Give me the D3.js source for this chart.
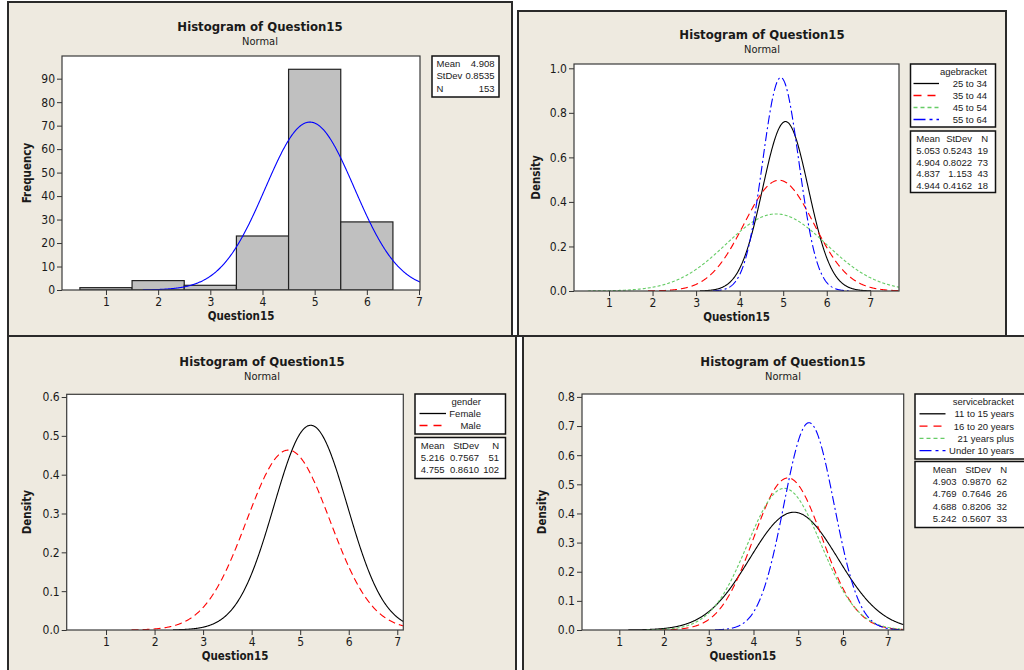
<!DOCTYPE html>
<html><head><meta charset="utf-8">
<script src="https://cdn.jsdelivr.net/npm/d3@7"></script>
<style>
html,body{margin:0;padding:0;background:#fff;}
svg text{font-family:"DejaVu Sans Condensed","DejaVu Sans",sans-serif;fill:#1a1a1a;}
svg text.lg{font-family:"Liberation Sans",Arial,sans-serif;}
</style></head>
<body><svg id="c" width="1024" height="670"></svg>
<script>
// ---------- DATA ----------
const histBins = [1, 2, 3, 4, 5, 6];
const histCounts = [1, 4, 2, 23, 94, 29];
const allStatLabels = ["Mean", "StDev", "N"];
const allStatValues = ["4.908", "0.8535", "153"];
const allMean = 4.908, allSD = 0.8535, allN = 153;

const ageGroups = ["25 to 34", "35 to 44", "45 to 54", "55 to 64"];
const ageMean = [5.053, 4.904, 4.837, 4.944];
const ageSD = [0.5243, 0.8022, 1.153, 0.4162];
const ageN = [19, 73, 43, 18];

const genderGroups = ["Female", "Male"];
const genderMean = [5.216, 4.755];
const genderSD = [0.7567, 0.8610];
const genderN = [51, 102];

const serviceGroups = ["11 to 15 years", "16 to 20 years", "21 years plus", "Under 10 years"];
const serviceMean = [4.903, 4.769, 4.688, 5.242];
const serviceSD = [0.9870, 0.7646, 0.8206, 0.5607];
const serviceN = [62, 26, 32, 33];

const xTicks = [1, 2, 3, 4, 5, 6, 7];
const freqTicks = [0, 10, 20, 30, 40, 50, 60, 70, 80, 90];
const ageTicks = [0.0, 0.2, 0.4, 0.6, 0.8, 1.0];
const genderTicks = [0.0, 0.1, 0.2, 0.3, 0.4, 0.5, 0.6];
const serviceTicks = [0.0, 0.1, 0.2, 0.3, 0.4, 0.5, 0.6, 0.7, 0.8];

// ---------- STYLE ----------
const BG = "#eeeae0";
const styles = [
  {color: "#000000", dash: null},
  {color: "#ff0000", dash: "7,4"},
  {color: "#66cc66", dash: "3,2"},
  {color: "#0000ff", dash: "9,3,2,3"}
];
const legendDash = [null, "8,6", "4,3", "12,4,3,4"];

const svg = d3.select("#c");
svg.append("rect").attr("width", 1024).attr("height", 670).attr("fill", "#fff");

function pdf(x, m, s) { return Math.exp(-0.5 * ((x - m) / s) ** 2) / (s * Math.sqrt(2 * Math.PI)); }

function panel(cfg) {
  const g = svg.append("g");
  g.append("rect").attr("x", cfg.frame[0]).attr("y", cfg.frame[1]).attr("width", cfg.frame[2]).attr("height", cfg.frame[3])
    .attr("fill", BG).attr("stroke", "#2a2a2a").attr("stroke-width", 2);
  const cx = cfg.frame[0] + cfg.frame[2] / 2;
  g.append("text").attr("x", cx).attr("y", cfg.titleY).attr("text-anchor", "middle")
    .attr("font-size", 13).attr("font-weight", "bold").text("Histogram of Question15");
  g.append("text").attr("x", cx).attr("y", cfg.titleY + 13.5).attr("text-anchor", "middle")
    .attr("font-size", 11).text("Normal");
  const x = d3.scaleLinear().domain(cfg.xd).range([cfg.l, cfg.r]);
  const y = d3.scaleLinear().domain(cfg.yd).range([cfg.b, cfg.t]);
  g.append("rect").attr("x", cfg.l).attr("y", cfg.t).attr("width", cfg.r - cfg.l).attr("height", cfg.b - cfg.t)
    .attr("fill", "#fff");
  const clipId = "clip" + cfg.id;
  svg.append("clipPath").attr("id", clipId).append("rect")
    .attr("x", cfg.l).attr("y", cfg.t - 2).attr("width", cfg.r - cfg.l).attr("height", cfg.b - cfg.t + 2);
  const xa = g.append("g").attr("transform", `translate(0,${cfg.b})`)
    .call(d3.axisBottom(x).tickValues(xTicks).tickSize(5).tickPadding(2).tickFormat(d3.format("d")));
  const ya = g.append("g").attr("transform", `translate(${cfg.l},0)`)
    .call(d3.axisLeft(y).tickValues(cfg.yTicks).tickSize(5).tickPadding(2).tickFormat(cfg.yFmt));
  [xa, ya].forEach(a => {
    a.select(".domain").remove();
    a.selectAll("line").attr("stroke", "#333");
    a.selectAll("text").attr("font-size", 12).attr("fill", "#1a1a1a").attr("font-family", null);
  });
  g.append("text").attr("x", (cfg.l + cfg.r) / 2).attr("y", cfg.b + 30).attr("text-anchor", "middle")
    .attr("font-size", 11.5).attr("font-weight", "bold").text("Question15");
  g.append("text").attr("transform", `translate(${cfg.yLabX},${(cfg.t + cfg.b) / 2}) rotate(-90)`)
    .attr("text-anchor", "middle").attr("font-size", 11.5).attr("font-weight", "bold").text(cfg.yLabel);
  const inner = g.append("g").attr("clip-path", `url(#${clipId})`);
  return {g, inner, x, y, cfg};
}

function frameOver(p) {
  p.g.append("rect").attr("x", p.cfg.l).attr("y", p.cfg.t).attr("width", p.cfg.r - p.cfg.l).attr("height", p.cfg.b - p.cfg.t)
    .attr("fill", "none").attr("stroke", "#3a3a3a").attr("stroke-width", 1.2);
}

function curves(p, means, sds) {
  const line = d3.line().x(d => p.x(d[0])).y(d => p.y(d[1]));
  means.forEach((m, i) => {
    const s = sds[i];
    const pts = d3.range(m - 3.75 * s, m + 3.75 * s, 0.01).map(v => [v, pdf(v, m, s)]);
    p.inner.append("path").attr("d", line(pts)).attr("fill", "none")
      .attr("stroke", styles[i].color).attr("stroke-width", 1.1)
      .attr("stroke-dasharray", styles[i].dash);
  });
}

function legend(p, L, title, groups) {
  const g = p.g;
  g.append("rect").attr("x", L.x).attr("y", L.y1).attr("width", L.w).attr("height", L.h1)
    .attr("fill", "#fff").attr("stroke", "#111").attr("stroke-width", 1.5);
  g.append("text").attr("class", "lg").attr("x", L.textR).attr("y", L.y1 + 11).attr("text-anchor", "end").attr("font-size", 9.5).text(title);
  groups.forEach((gname, i) => {
    const yy = L.y1 + 11 + L.rowH * (i + 1);
    g.append("line").attr("x1", L.sx1).attr("x2", L.sx2).attr("y1", yy - 3.5).attr("y2", yy - 3.5)
      .attr("stroke", styles[i].color).attr("stroke-width", 1.3).attr("stroke-dasharray", legendDash[i]);
    g.append("text").attr("class", "lg").attr("x", L.textR).attr("y", yy).attr("text-anchor", "end").attr("font-size", 9.5).text(gname);
  });
}

function statsTable(p, L, means, sds, ns, sdFmt) {
  const g = p.g;
  g.append("rect").attr("x", L.x).attr("y", L.y2).attr("width", L.w).attr("height", L.h2)
    .attr("fill", "#fff").attr("stroke", "#111").attr("stroke-width", 1.5);
  const rows = [["Mean", "StDev", "N"]].concat(means.map((m, i) => [d3.format(".3f")(m), sdFmt(sds[i]), String(ns[i])]));
  rows.forEach((r, j) => {
    const yy = L.y2 + 11 + L.statH * j;
    r.forEach((t, k) => {
      g.append("text").attr("class", "lg").attr("x", L.cols[k]).attr("y", yy).attr("text-anchor", "end").attr("font-size", 9.5).text(t);
    });
  });
}
const sdFmt = v => v >= 1 ? d3.format(".3f")(v) : d3.format(".4f")(v);

// ---------- PANEL 1: histogram ----------
const p1 = panel({id: 1, frame: [8, 2, 504, 334], titleY: 31, l: 62, r: 420, t: 56, b: 290,
  xd: [0.157, 7.019], yd: [0, 99.66], yTicks: freqTicks, yFmt: d3.format("d"), yLabel: "Frequency", yLabX: 31});
p1.inner.selectAll("rect.bar").data(histBins).enter().append("rect").attr("class", "bar")
  .attr("x", d => p1.x(d - 0.5)).attr("width", d => p1.x(d + 0.5) - p1.x(d - 0.5))
  .attr("y", (d, i) => p1.y(histCounts[i])).attr("height", (d, i) => p1.y(0) - p1.y(histCounts[i]))
  .attr("fill", "#c0c0c0").attr("stroke", "#222").attr("stroke-width", 1.2);
{
  const line = d3.line().x(d => p1.x(d[0])).y(d => p1.y(d[1]));
  const pts = d3.range(allMean - 3.75 * allSD, 7.3, 0.01).map(v => [v, allN * pdf(v, allMean, allSD)]);
  p1.inner.append("path").attr("d", line(pts)).attr("fill", "none").attr("stroke", "#0000ff").attr("stroke-width", 1.1);
}
frameOver(p1);
{
  const g = p1.g;
  g.append("rect").attr("x", 432).attr("y", 56).attr("width", 67).attr("height", 41)
    .attr("fill", "#fff").attr("stroke", "#111").attr("stroke-width", 1.5);
  allStatLabels.forEach((t, i) => {
    g.append("text").attr("class", "lg").attr("x", 436.5).attr("y", 67 + 12.3 * i).attr("font-size", 9.5).text(t);
    g.append("text").attr("class", "lg").attr("x", 494.5).attr("y", 67 + 12.3 * i).attr("text-anchor", "end").attr("font-size", 9.5).text(allStatValues[i]);
  });
}

// ---------- PANEL 2: agebracket ----------
const p2 = panel({id: 2, frame: [518, 11, 488, 325], titleY: 39, l: 574, r: 899, t: 64, b: 291,
  xd: [0.196, 7.659], yd: [0, 1.0193], yTicks: ageTicks, yFmt: d3.format(".1f"), yLabel: "Density", yLabX: 540});
curves(p2, ageMean, ageSD);
frameOver(p2);
const L2 = {x: 910.5, w: 85, y1: 64, h1: 63, textR: 987, sx1: 913.5, sx2: 939, rowH: 12,
  y2: 131, h2: 61.5, statH: 11.8, cols: [940, 972, 988]};
legend(p2, L2, "agebracket", ageGroups);
statsTable(p2, L2, ageMean, ageSD, ageN, sdFmt);

// ---------- PANEL 3: gender ----------
const p3 = panel({id: 3, frame: [8, 336, 508, 340], titleY: 366, l: 66.7, r: 403.3, t: 394.3, b: 630,
  xd: [0.19, 7.124], yd: [0, 0.607], yTicks: genderTicks, yFmt: d3.format(".1f"), yLabel: "Density", yLabX: 31});
curves(p3, genderMean, genderSD);
frameOver(p3);
const L3 = {x: 415, w: 90.5, y1: 394, h1: 40, textR: 481, sx1: 419.5, sx2: 446, rowH: 12,
  y2: 437.5, h2: 41, statH: 12.2, cols: [444.5, 479, 499]};
legend(p3, L3, "gender", genderGroups);
statsTable(p3, L3, genderMean, genderSD, genderN, sdFmt);

// ---------- PANEL 4: servicebracket ----------
const p4 = panel({id: 4, frame: [523, 336, 520, 340], titleY: 366, l: 582, r: 903.7, t: 394, b: 630,
  xd: [0.166, 7.358], yd: [0, 0.810], yTicks: serviceTicks, yFmt: d3.format(".1f"), yLabel: "Density", yLabX: 546});
curves(p4, serviceMean, serviceSD);
frameOver(p4);
const L4 = {x: 915, w: 110, y1: 394, h1: 65, textR: 1014, sx1: 919.5, sx2: 945.5, rowH: 12.3,
  y2: 461.5, h2: 66, statH: 12.4, cols: [956.5, 991, 1007]};
legend(p4, L4, "servicebracket", serviceGroups);
statsTable(p4, L4, serviceMean, serviceSD, serviceN, sdFmt);
</script></body></html>
